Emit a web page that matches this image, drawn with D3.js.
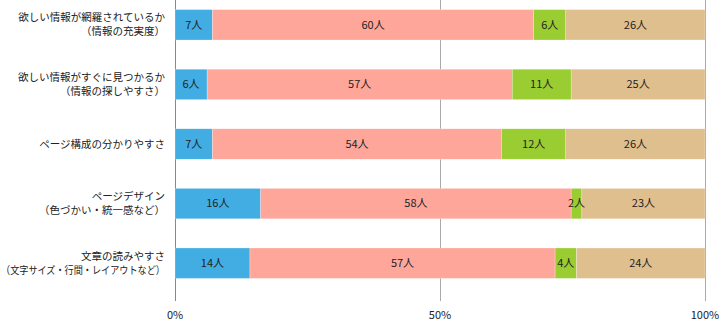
<!DOCTYPE html>
<html>
<head>
<meta charset="utf-8">
<script src="https://cdn.jsdelivr.net/npm/d3@7"></script>
<style>
  body { margin: 0; background: #fff; }
  text { font-family: "Noto Sans CJK JP", "Noto Sans", sans-serif; fill: #222; }
</style>
</head>
<body>
<div id="chart"></div>
<script>
// categories (each split into label lines)
var categories = [
  ["欲しい情報が網羅されているか", "（情報の充実度）"],
  ["欲しい情報がすぐに見つかるか", "（情報の探しやすさ）"],
  ["ページ構成の分かりやすさ"],
  ["ページデザイン", "（色づかい・統一感など）"],
  ["文章の読みやすさ", "（文字サイズ・行間・レイアウトなど）"]
];

// counts per answer group
var series1 = [7, 6, 7, 16, 14];
var series2 = [60, 57, 54, 58, 57];
var series3 = [6, 11, 12, 2, 4];
var series4 = [26, 25, 26, 23, 24];

var tickValues = [0, 0.5, 1];
var colors = ["#41ade2", "#ffa69a", "#9acd32", "#e0bf8e"];

var width = 722, height = 321;
var margin = {left: 175, right: 17};

var x = d3.scaleLinear()
    .domain([0, 1])
    .range([margin.left, width - margin.right]);

var y = d3.scaleBand()
    .domain(d3.range(categories.length))
    .range([-5, 293])
    .paddingInner(0.49)
    .paddingOuter(0.245);

var svg = d3.select("#chart").append("svg")
    .attr("width", width)
    .attr("height", height);

// grid lines
svg.selectAll(".grid")
    .data(tickValues)
  .enter().append("line")
    .attr("x1", function(d) { return Math.round(x(d)) + 0.5; })
    .attr("x2", function(d) { return Math.round(x(d)) + 0.5; })
    .attr("y1", 0)
    .attr("y2", 301)
    .attr("stroke", function(d, i) { return i == 0 ? "#888" : "#aaa"; })
    .attr("stroke-width", 1);

// stack data
var rows = categories.map(function(c, i) {
  var vals = [series1[i], series2[i], series3[i], series4[i]];
  var total = d3.sum(vals);
  var acc = 0;
  return vals.map(function(v, k) {
    var seg = {row: i, k: k, v: v, x0: acc / total, x1: (acc + v) / total};
    acc += v;
    return seg;
  });
});
var segs = d3.merge(rows);

svg.selectAll(".bar")
    .data(segs)
  .enter().append("rect")
    .attr("x", function(d) { return x(d.x0); })
    .attr("y", function(d) { return y(d.row); })
    .attr("width", function(d) { return x(d.x1) - x(d.x0); })
    .attr("height", y.bandwidth())
    .attr("fill", function(d) { return colors[d.k]; })
    .attr("stroke", "#fff")
    .attr("stroke-opacity", 0.5)
    .attr("stroke-width", 0.5);

svg.selectAll(".val")
    .data(segs)
  .enter().append("text")
    .attr("x", function(d) { return (x(d.x0) + x(d.x1)) / 2; })
    .attr("y", function(d) { return y(d.row) + y.bandwidth() / 2; })
    .attr("dy", "0.35em")
    .attr("text-anchor", "middle")
    .style("font-size", "11px")
    .text(function(d) { return d.v + "人"; });

// category labels
var lab = svg.selectAll(".cat")
    .data(categories)
  .enter().append("text")
    .attr("text-anchor", "end")
    .style("font-size", "10.5px")
    .attr("transform", function(d, i) {
      return "translate(165," + (y(i) + y.bandwidth() / 2) + ")";
    });

lab.selectAll("tspan")
    .data(function(d) { return d; })
  .enter().append("tspan")
    .attr("x", 0)
    .attr("y", function(d, i, n) { return (i - (n.length - 1) / 2) * 14; })
    .attr("dy", "0.35em")
    .text(function(d) { return d; })
    .each(function() {
      // squeeze lines that would run past the left edge
      var w = this.getComputedTextLength();
      if (w > 164) {
        d3.select(this).attr("textLength", 164).attr("lengthAdjust", "spacingAndGlyphs");
      }
    });

// x tick labels
svg.selectAll(".tick")
    .data(tickValues)
  .enter().append("text")
    .attr("x", function(d) { return x(d); })
    .attr("y", 315)
    .attr("dy", "0.35em")
    .attr("text-anchor", "middle")
    .style("font-size", "11px")
    .text(function(d) { return d3.format(".0%")(d); });
</script>
</body>
</html>
